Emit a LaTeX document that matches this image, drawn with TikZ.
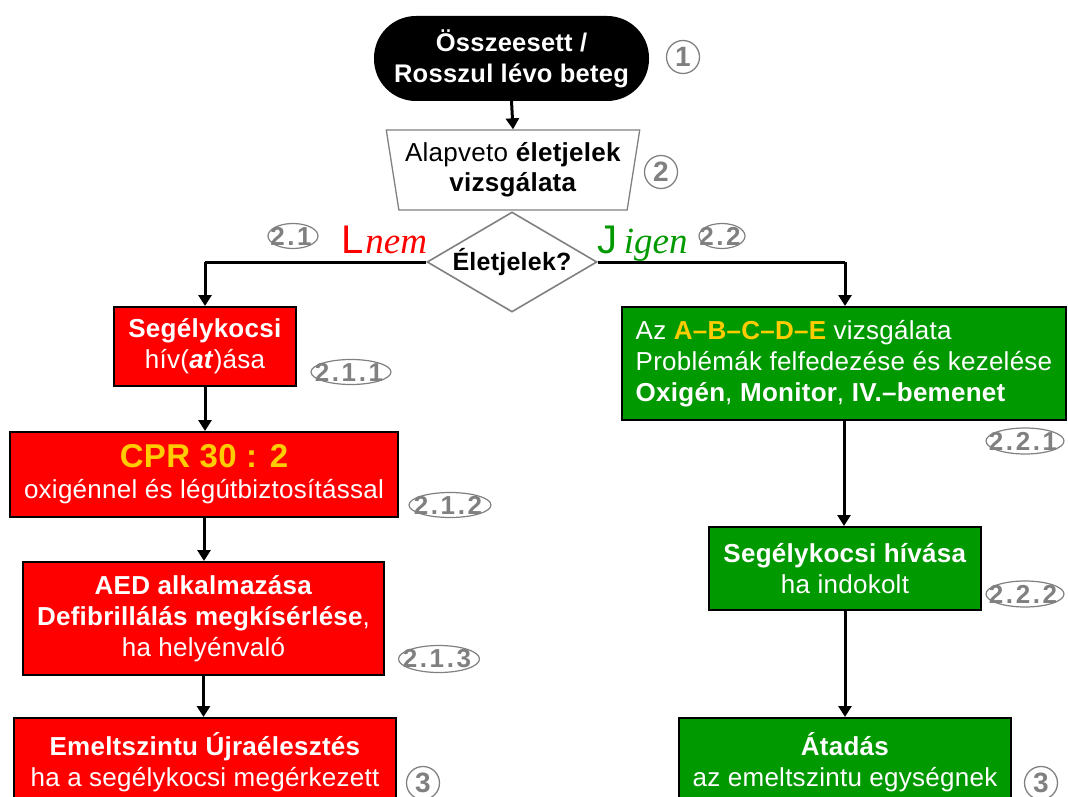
\documentclass[tikz,border=0pt]{standalone}
\usepackage{fontspec}
\setmainfont{Liberation Sans}[LetterSpace=1]
\newfontfamily\serifit{Liberation Serif}
\newfontfamily\badgefont{Liberation Sans}[LetterSpace=10]
\usetikzlibrary{arrows.meta,shapes.geometric}
\definecolor{boxred}{RGB}{255,0,0}
\definecolor{boxgreen}{RGB}{0,153,0}
\definecolor{yel}{RGB}{255,204,0}
\definecolor{badge}{RGB}{128,128,128}
\newcommand{\fsz}[2]{\fontsize{#1}{#2}\selectfont}
\tikzset{
  base/.style={draw=black, line width=2pt, inner sep=0pt, align=center, text=white, font=\fsz{26}{31}},
  redbox/.style={base, fill=boxred},
  greenbox/.style={base, fill=boxgreen},
  conn/.style={line width=3pt, -{Triangle[length=11pt,width=13pt]}},
  plain/.style={line width=3pt},
  badgetext/.style={text=badge, inner sep=0pt, xshift=-2pt, font=\badgefont\bfseries\fsz{26}{26}},
  badgeline/.style={draw=badge, line width=1.2pt},
  badgecirc/.style={circle, draw=badge, line width=1.3pt, text=badge, inner sep=0pt, minimum size=33pt, font=\bfseries\fsz{28}{28}},
}
\begin{document}
\begin{tikzpicture}[x=1pt,y=-1pt]
\useasboundingbox (0,0) rectangle (1068,797);
\clip (0,0) rectangle (1068,797);
% start
\node[base, fill=black, rounded corners=41pt, minimum width=273pt, minimum height=83pt, font=\bfseries\fsz{25.5}{31}] (start) at (511.5,58.5) {Összeesett /\\Rosszul lévo beteg};
\node[badgecirc] (b1) at (683,57) {1};
% trapezium
\node[trapezium, draw=badge, line width=1.3pt, shape border rotate=180, trapezium stretches=true, trapezium left angle=77.7, trapezium right angle=77.7, minimum width=254pt, minimum height=80pt, inner sep=0pt, align=center, font=\fsz{26}{30}] (trap) at (513,170) {Alapveto \textbf{életjelek}\\\textbf{vizsgálata}};
\node[badgecirc] (b2) at (661,172) {2};
% decision
\node[diamond, draw=badge, line width=1.6pt, aspect=1.7, inner sep=0pt, minimum width=170pt, minimum height=100pt, fill=white, font=\bfseries\fsz{25}{25}] (dec) at (512,262) {Életjelek?};
% left column
\node[redbox, minimum width=182pt, minimum height=79pt] (r1) at (205,346.5) {\textbf{Segélykocsi}\\hív(\textbf{\textit{at}})ása};
\node[redbox, minimum width=388pt, minimum height=85pt] (r2) at (204,474.5) {{\bfseries\color{yel}\fsz{33}{36}CPR 30 : 2}\\oxigénnel és légútbiztosítással};
\node[redbox, minimum width=361pt, minimum height=113pt] (r3) at (203.5,618.5) {\textbf{AED alkalmazása}\\\textbf{Defibrillálás megkísérlése},\\ha helyénvaló};
\node[redbox, minimum width=382pt, minimum height=88pt] (r4) at (205,762) {\textbf{Emeltszintu Újraélesztés}\\ha a segélykocsi megérkezett};
% right column
\node[greenbox, minimum width=444pt, minimum height=113pt, align=left] (g1) at (844,363.5) {Az {\bfseries\color{yel}A–B–C–D–E} vizsgálata\\Problémák felfedezése és kezelése\\\textbf{Oxigén}, \textbf{Monitor}, \textbf{IV.–bemenet}};
\node[greenbox, minimum width=272pt, minimum height=83pt] (g2) at (845,568.5) {\textbf{Segélykocsi hívása}\\ha indokolt};
\node[greenbox, minimum width=332pt, minimum height=88pt] (g3) at (845,762) {\textbf{Átadás}\\az emeltszintu egységnek};
% connectors
\draw[conn] (start.south) -- (trap.north);
\coordinate (lc) at (205,262);
\coordinate (rc) at (845,262);
\draw[plain] (dec.west) -- (lc);
\draw[conn] (lc) -- (r1.north);
\draw[plain] (dec.east) -- (rc);
\draw[conn] (rc) -- (rc |- g1.north);
\draw[conn] (r1.south) -- (r1.south |- r2.north);
\draw[conn] (r2.south) -- (r2.south |- r3.north);
\draw[conn] (r3.south) -- (r3.south |- r4.north);
\draw[conn] (g1.south) -- (g1.south |- g2.north);
\draw[conn] (g2.south) -- (g2.south |- g3.north);
% branch labels
\node[anchor=base west, inner sep=0pt, text=red, font=\fsz{40}{40}] (nem) at (341,253) {L\kern2pt{\serifit\itshape\fsz{37}{37}nem}};
\node[anchor=base west, inner sep=0pt, text=boxgreen, font=\fsz{40}{40}] (igen) at (597,253) {J\,{\serifit\itshape\fsz{37}{37}igen}};
% badges
\coordinate (c21) at (293,236);
\node[badgetext] (b21) at (c21) {2.1};
\draw[badgeline] (c21) ellipse [x radius=25, y radius=12.5];
\coordinate (c22) at (722,236);
\node[badgetext] (b22) at (c22) {2.2};
\draw[badgeline] (c22) ellipse [x radius=23, y radius=12.5];
\coordinate (c211) at (351,372);
\node[badgetext] (b211) at (c211) {2.1.1};
\draw[badgeline] (c211) ellipse [x radius=40, y radius=12.5];
\coordinate (c212) at (450,505);
\node[badgetext] (b212) at (c212) {2.1.2};
\draw[badgeline] (c212) ellipse [x radius=41, y radius=12.5];
\coordinate (c213) at (439,659);
\node[badgetext] (b213) at (c213) {2.1.3};
\draw[badgeline] (c213) ellipse [x radius=40.5, y radius=13.5];
\coordinate (c221) at (1025,441);
\node[badgetext] (b221) at (c221) {2.2.1};
\draw[badgeline] (c221) ellipse [x radius=39, y radius=13];
\coordinate (c222) at (1025,594);
\node[badgetext] (b222) at (c222) {2.2.2};
\draw[badgeline] (c222) ellipse [x radius=39, y radius=13];
\node[badgecirc] (b3l) at (423,783) {3};
\node[badgecirc] (b3r) at (1041,783) {3};
\end{tikzpicture}
\end{document}
